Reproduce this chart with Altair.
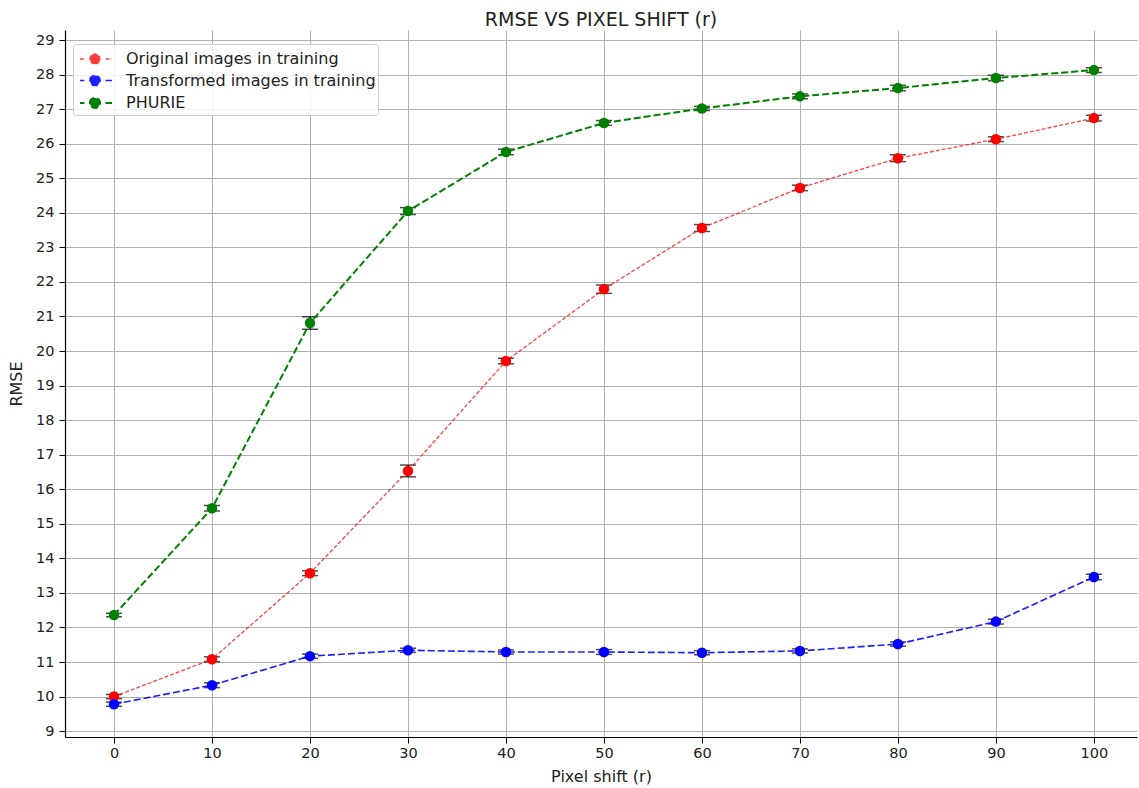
import altair as alt
import pandas as pd

shift = [0, 10, 20, 30, 40, 50, 60, 70, 80, 90, 100]
series_names = ["Original images in training", "Transformed images in training", "PHURIE"]
original = [10.0, 11.08, 13.57, 16.53, 19.71, 21.79, 23.56, 24.72, 25.58, 26.13, 26.74]
original_err = [0.06, 0.07, 0.07, 0.17, 0.08, 0.12, 0.10, 0.08, 0.10, 0.07, 0.08]
transformed = [9.78, 10.33, 11.17, 11.34, 11.29, 11.29, 11.27, 11.32, 11.52, 12.17, 13.46]
transformed_err = [0.06, 0.07, 0.06, 0.06, 0.06, 0.07, 0.06, 0.06, 0.06, 0.07, 0.08]
phurie = [12.36, 15.45, 20.81, 24.05, 25.76, 26.60, 27.02, 27.37, 27.61, 27.90, 28.13]
phurie_err = [0.05, 0.08, 0.18, 0.10, 0.08, 0.07, 0.06, 0.07, 0.08, 0.08, 0.07]
colors = ["#ff0000", "#0000ff", "#008000"]
y_ticks = list(range(9, 30))

rows = []
for name, vals, errs in zip(series_names, [original, transformed, phurie],
                            [original_err, transformed_err, phurie_err]):
    for xv, yv, ev in zip(shift, vals, errs):
        rows.append({"series": name, "x": xv, "y": yv, "lo": yv - ev, "hi": yv + ev})
df = pd.DataFrame(rows)

FONT = "DejaVu Sans"
xscale = alt.Scale(domain=[-5, 104.4], nice=False, zero=False)
yscale = alt.Scale(domain=[8.83, 29.29], nice=False, zero=False)
xaxis = alt.Axis(values=shift, title="Pixel shift (r)", titlePadding=9, labelOverlap=False)
yaxis = alt.Axis(values=y_ticks, title="RMSE", titlePadding=11, labelOverlap=False)


def X():
    return alt.X("x:Q", scale=xscale, axis=xaxis)


def Y(field):
    return alt.Y(field, scale=yscale, axis=yaxis)


legend_path = ("M-0.67,0 L-0.3,0 M1.46,0 L2.0,0 "
               "M0.16,0 A0.42,0.42 0 1,1 1.0,0 A0.42,0.42 0 1,1 0.16,0 Z")
color_enc = alt.Color(
    "series:N",
    scale=alt.Scale(domain=series_names, range=colors),
    sort=series_names,
    legend=alt.Legend(
        title=None, orient="none", legendX=8, legendY=14, symbolType=legend_path,
        symbolSize=576, symbolStrokeWidth=1.8, labelFontSize=16, labelFont=FONT,
        labelColor="#222", fillColor="rgba(255,255,255,0.85)", strokeColor="#cccccc",
        cornerRadius=3, padding=2, rowPadding=0.5, labelOffset=25, labelLimit=500,
    ),
)

base = alt.Chart(df)

rules = base.mark_rule(color="black", strokeWidth=1.3).encode(
    x=X(), y=Y("lo:Q"), y2="hi:Q",
)
cap_lo = base.mark_tick(color="black", orient="horizontal", size=16, thickness=1.5).encode(
    x=X(), y=Y("lo:Q")
)
cap_hi = base.mark_tick(color="black", orient="horizontal", size=16, thickness=1.5).encode(
    x=X(), y=Y("hi:Q")
)
lines = base.mark_line().encode(
    x=X(),
    y=Y("y:Q"),
    color=color_enc,
    strokeDash=alt.StrokeDash("series:N", scale=alt.Scale(domain=series_names,
                              range=[[4, 2], [7, 3], [7, 3]]), legend=None),
    strokeWidth=alt.StrokeWidth("series:N", scale=alt.Scale(domain=series_names,
                                range=[1.3, 2.0, 2.0]), legend=None),
    opacity=alt.Opacity("series:N", scale=alt.Scale(domain=series_names,
                        range=[0.75, 1.0, 1.0]), legend=None),
)
points = base.mark_point(filled=True, shape="circle", size=110, opacity=1).encode(
    x=X(),
    y=Y("y:Q"),
    color=color_enc,
)

chart = alt.layer(rules, cap_lo, cap_hi, lines, points).properties(
    width=1072, height=707,
    title=alt.Title("RMSE VS PIXEL SHIFT (r)", fontSize=19, font=FONT,
                    fontWeight="normal", color="#222", offset=0),
    autosize=alt.AutoSizeParams(type="none"),
    padding={"left": 65, "top": 30, "right": 2, "bottom": 51},
).configure_view(stroke=None).configure_axis(
    grid=True, gridColor="#b0b0b0", gridWidth=1, domainColor="#000", domainWidth=1.2,
    tickColor="#000", tickSize=6, labelFontSize=14.5, labelFont=FONT, labelColor="#222",
    labelPadding=5, titleFontSize=16, titleFont=FONT, titleFontWeight="normal",
    titleColor="#222",
).configure_axisX(labelPadding=3)

chart.save("out.html", embed_options={"renderer": "svg", "actions": False})
